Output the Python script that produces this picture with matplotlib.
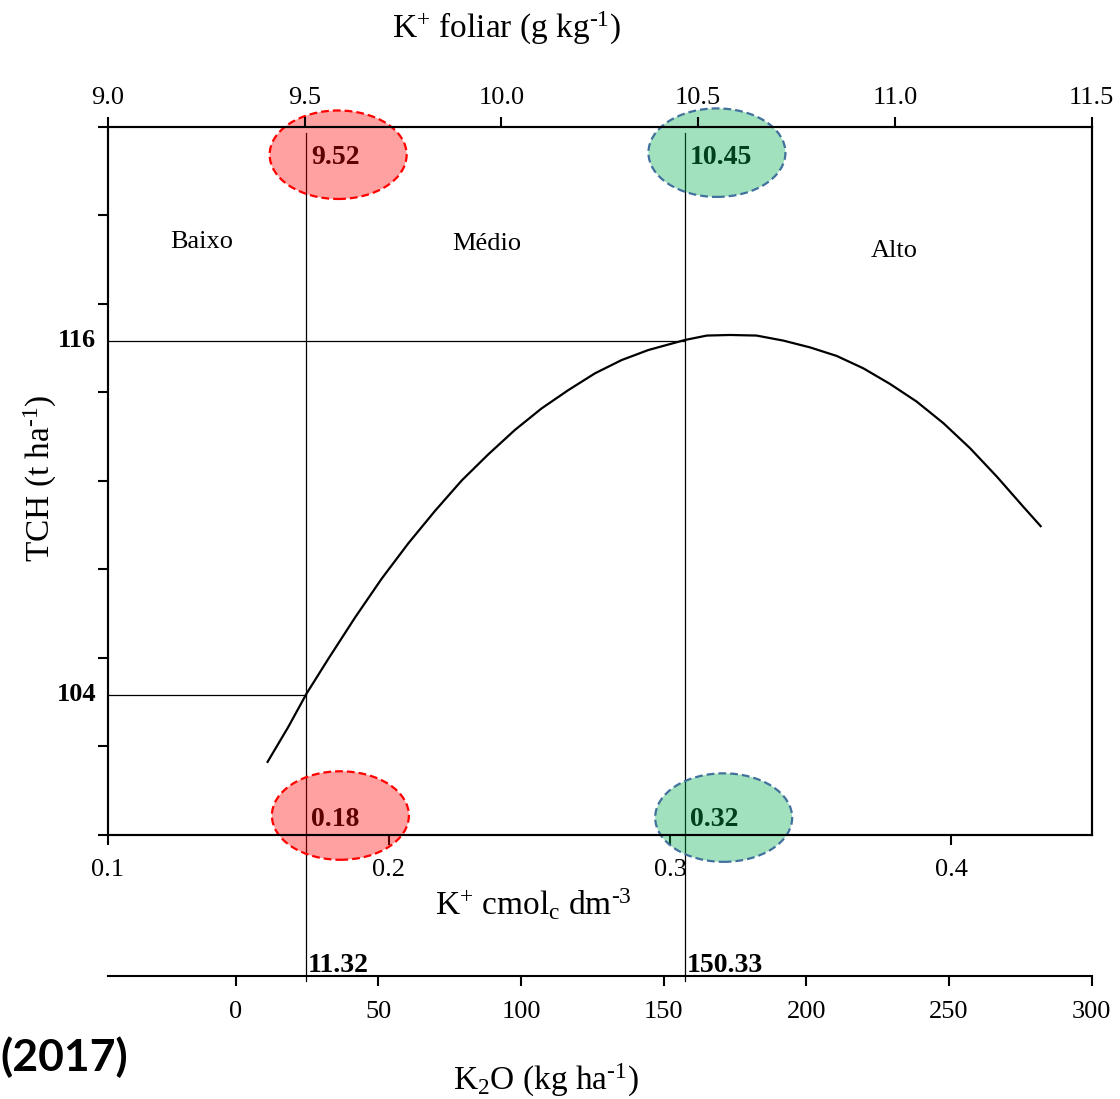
import matplotlib
matplotlib.use("Agg")
import matplotlib.pyplot as plt
from matplotlib.patches import Ellipse
import numpy as np

plt.rcParams["font.family"] = "serif"
plt.rcParams["font.serif"] = ["Liberation Serif", "DejaVu Serif"]
plt.rcParams["mathtext.fontset"] = "custom"
plt.rcParams["mathtext.rm"] = "Liberation Serif"
plt.rcParams["mathtext.it"] = "Liberation Serif:italic"
plt.rcParams["mathtext.bf"] = "Liberation Serif:bold"

# curva TCH x K+ no solo
k_solo = [0.1568, 0.1642, 0.1707, 0.1784, 0.1879, 0.1974, 0.2069, 0.2164,
          0.2259, 0.2353, 0.2448, 0.2543, 0.2638, 0.2733, 0.2828, 0.2923,
          0.3053, 0.3131, 0.3214, 0.3308, 0.3403, 0.3498, 0.3593, 0.3688,
          0.3783, 0.3878, 0.3973, 0.4068, 0.4163, 0.4257, 0.4319]
tch = [101.73, 102.92, 104.05, 105.22, 106.62, 107.94, 109.14, 110.24,
       111.27, 112.15, 112.98, 113.71, 114.33, 114.90, 115.35, 115.69,
       116.03, 116.18, 116.20, 116.18, 116.01, 115.78, 115.49, 115.07,
       114.54, 113.94, 113.21, 112.36, 111.40, 110.38, 109.72]

# niveis criticos
crit_x = [0.1706, 0.3053]
crit_y = [104, 116]
crit_foliar = ["9.52", "10.45"]
crit_solo = ["0.18", "0.32"]
crit_k2o = ["11.32", "150.33"]
classes = ["Baixo", "Médio", "Alto"]
classes_x = [0.1335, 0.2349, 0.3797]
classes_y = [119.35, 119.30, 119.06]

foliar_ticks = [9.0, 9.5, 10.0, 10.5, 11.0, 11.5]
solo_ticks = [0.1, 0.2, 0.3, 0.4]
k2o_ticks = [0, 50, 100, 150, 200, 250, 300]

W, H = 1120, 1099
fig = plt.figure(figsize=(W / 100, H / 100), dpi=100)
L, R, T, B = 108, 1091.5, 127, 835
ax = fig.add_axes([L / W, 1 - B / H, (R - L) / W, (B - T) / H])

ax.plot(k_solo, tch, color="black", linewidth=1.6, zorder=3)
ax.set_xlim(0.1, 0.45)
ax.set_ylim(99.25, 123.25)
ax.set_xticks(solo_ticks)
ax.set_xticklabels(["0.1", "0.2", "0.3", "0.4"])
ax.set_yticks(np.arange(99.25, 123.3, 3))
ax.set_yticklabels([])
for s in ax.spines.values():
    s.set_linewidth(1.5)
ax.tick_params(axis="x", direction="out", length=7, width=1.5,
               labelsize=19, pad=10)
ax.tick_params(axis="y", direction="out", length=7.5, width=1.5)

# linhas de referencia
for xv, yv in zip(crit_x, crit_y):
    ax.plot([xv, xv], [94.3, 123.06], color="black", linewidth=0.9,
            clip_on=False, zorder=2)
    ax.plot([0.1, xv], [yv, yv], color="black", linewidth=0.9, zorder=2)
    ax.text(-0.012, yv, str(yv), transform=ax.get_yaxis_transform(),
            ha="right", va="center", fontsize=19, fontweight="bold")

for name, xv, yv in zip(classes, classes_x, classes_y):
    ax.text(xv, yv, name, ha="center", va="center", fontsize=19)

# valores criticos + elipses
ell_w = 0.04875
for i, xv in enumerate(crit_x):
    ax.text(xv + 0.0018, 122.23, crit_foliar[i], ha="left", va="center",
            fontsize=20, fontweight="bold", clip_on=False)
    ax.text(xv + 0.0018, 99.76, crit_solo[i], ha="left", va="center",
            fontsize=20, fontweight="bold", clip_on=False)
    ax.text(xv + 0.0006, 94.84, crit_k2o[i], ha="left", va="center",
            fontsize=20, fontweight="bold", clip_on=False)

ell_specs = [
    (0.1819, 122.31, (1.0, 0.0, 0.0, 0.37), "#ff0000"),
    (0.3167, 122.38, (0.0, 0.69, 0.31, 0.37), "#41719c"),
    (0.1827, 99.91, (1.0, 0.0, 0.0, 0.37), "#ff0000"),
    (0.3191, 99.84, (0.0, 0.69, 0.31, 0.37), "#41719c"),
]
for cx, cy, fc, ec in ell_specs:
    e = Ellipse((cx, cy), ell_w, 3.0, facecolor=fc, edgecolor=ec,
                linestyle=(0, (3.5, 1.8)), linewidth=1.6, clip_on=False,
                zorder=5)
    ax.add_patch(e)

# eixo superior: K+ foliar
ax_top = ax.twiny()
ax_top.set_xlim(9.0, 11.5)
ax_top.set_xticks(foliar_ticks)
ax_top.set_xticklabels([f"{t:.1f}" for t in foliar_ticks])
ax_top.tick_params(axis="x", direction="out", length=7, width=1.5,
                   labelsize=19, pad=6)
for s in ax_top.spines.values():
    s.set_linewidth(1.5)

# eixo K2O
ax_k = fig.add_axes([L / W, 1 - 976 / H, (R - L) / W, 0.01])
ax_k.set_xlim(-44.8, 300)
ax_k.set_xticks(k2o_ticks)
ax_k.set_yticks([])
ax_k.patch.set_visible(False)
for side in ["top", "left", "right"]:
    ax_k.spines[side].set_visible(False)
ax_k.spines["bottom"].set_linewidth(1.5)
ax_k.tick_params(axis="x", direction="out", length=7, width=1.5,
                 labelsize=19, pad=11)

# rotulos
fig.text(507 / W, 1 - 38 / H, r"K$^{+}$ foliar (g kg$^{\text{-1}}$)",
         ha="center", va="baseline", fontsize=24)
fig.text(533 / W, 1 - 915 / H, r"K$^{+}$ cmol$_{\mathrm{c}}$ dm$^{\text{-3}}$",
         ha="center", va="baseline", fontsize=24)
fig.text(546 / W, 1 - 1090 / H, r"K$_{2}$O (kg ha$^{\text{-1}}$)",
         ha="center", va="baseline", fontsize=24)
fig.text(40 / W, 1 - 478 / H, r"TCH (t ha$^{\text{-1}}$)", rotation=90,
         ha="center", va="center", fontsize=24)
fig.text(0.0, 1 - 1057 / H, "(2017)", ha="left", va="center",
         fontsize=32, fontweight="bold", family=["Lato", "DejaVu Sans"])

fig.savefig("out.png", dpi=100)
